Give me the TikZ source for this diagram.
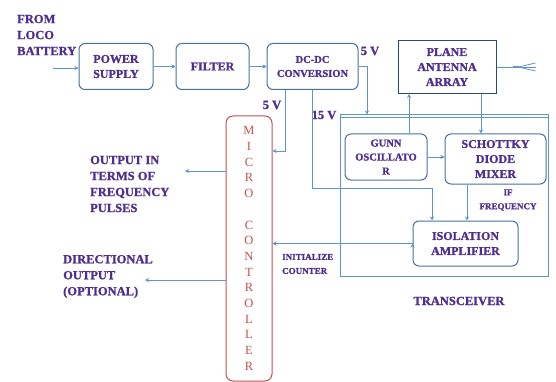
\documentclass[tikz,border=0pt]{standalone}
\usepackage{fontspec}
\setmainfont[BoldFeatures={FakeBold=1.2}]{Liberation Serif}
\usetikzlibrary{arrows.meta,positioning}

\definecolor{txtpurple}{RGB}{78,46,142}
\definecolor{wireblue}{RGB}{96,148,208}
\definecolor{boxblue}{RGB}{72,112,162}
\definecolor{antnavy}{RGB}{44,72,130}
\definecolor{mcred}{RGB}{196,82,78}

\tikzset{
  block/.style={draw=boxblue, line width=1pt, rounded corners=6pt, align=center,
    inner sep=0pt, text=txtpurple, font=\bfseries\fontsize{12}{15}\selectfont},
  smallblock/.style={block, font=\bfseries\fontsize{10.5}{14}\selectfont},
  lbl/.style={align=left, inner sep=0pt, text=txtpurple,
    font=\bfseries\fontsize{12.5}{16}\selectfont},
  tinylbl/.style={align=left, inner sep=0pt, text=txtpurple,
    font=\bfseries\fontsize{9}{14}\selectfont},
  wire/.style={draw=wireblue, line width=0.8pt}
}

\begin{document}
\begin{tikzpicture}[x=1pt,y=-1pt,>={Stealth[length=4pt,width=4pt]}]
  \useasboundingbox (0,0) rectangle (556,382);

  % supply chain
  \node[block, minimum width=74pt, minimum height=46pt] (power) at (116,66.5) {POWER\\SUPPLY};
  \node[block, minimum width=73pt, minimum height=46pt] (filter) at (212.5,66.5) {FILTER};
  \node[smallblock, minimum width=91pt, minimum height=46pt] (dcdc) at (312.5,66.5) {DC-DC\\CONVERSION};
  \node[block, draw=antnavy, rounded corners=0pt, minimum width=98pt, minimum height=53pt] (antenna) at (447,67) {PLANE\\ANTENNA\\ARRAY};

  % transceiver
  \node[draw=wireblue, line width=1pt, minimum width=208pt, minimum height=161pt, inner sep=0pt] (trx) at (444,195.5) {};
  \node[smallblock, minimum width=82pt, minimum height=46pt] (gunn) at (386,157) {GUNN\\OSCILLATO\\R};
  \node[block, minimum width=101pt, minimum height=50pt] (mixer) at (495.5,159) {SCHOTTKY\\DIODE\\MIXER};
  \node[block, minimum width=105pt, minimum height=45pt] (isolation) at (465.5,243.5) {ISOLATION\\AMPLIFIER};

  % micro controller
  \node[draw=mcred, line width=1pt, rounded corners=7pt, minimum width=46pt, minimum height=265pt,
    inner sep=0pt, align=center, text=mcred, font=\fontsize{12.5}{15.7}\selectfont] (micro) at (249,248.5)
    {M\\I\\C\\R\\O\\\mbox{}\\C\\O\\N\\T\\R\\O\\L\\L\\E\\R};

  % labels
  \node[lbl, anchor=west] (battery) at (17,35) {FROM\\LOCO\\BATTERY};
  \node[lbl, anchor=west] (freqout) at (90,184) {OUTPUT IN\\TERMS OF\\FREQUENCY\\PULSES};
  \node[lbl, anchor=west] (dirout) at (63,276.5) {DIRECTIONAL\\OUTPUT\\(OPTIONAL)};
  \node[tinylbl, anchor=west] (init) at (282,264) {INITIALIZE\\COUNTER};
  \node[tinylbl, align=center] (iffreq) at (508,200) {IF\\FREQUENCY};
  \node[lbl] (trxlabel) at (459,301) {TRANSCEIVER};
  \node[lbl] (vfive) at (370,51) {5 V};
  \node[lbl] (vmicro) at (272,105) {5 V};
  \node[lbl] (vfifteen) at (324,115) {15 V};

  % bend points and free ends
  \coordinate (batt) at (53,68);
  \coordinate (tap5) at (285,151);
  \coordinate (tap15) at (312,188);
  \coordinate (iso15) at (432,0);
  \coordinate (trx5) at (367,0);
  \coordinate (gunnup) at (409,0);
  \coordinate (antdown) at (481,0);
  \coordinate (ifline) at (467,0);
  \coordinate (outfreq) at (185,171);
  \coordinate (outdir) at (145,280);

  \draw[wire,->] (batt) -- (batt -| power.west);
  \path[wire,->] (power) edge (filter)
    (filter) edge (dcdc)
    (gunn.east) edge (gunn.east -| mixer.west)
    (isolation.west) edge (isolation.west -| micro.east);
  \draw[wire,->] (dcdc.east) -| (trx.north -| trx5);
  \draw[wire,->] (dcdc.south -| tap5) -- (tap5) -- (tap5 -| micro.east);
  \draw[wire,->] (dcdc.south -| tap15) -- (tap15) -| (isolation.north -| iso15);
  \draw[wire,->] (gunn.north -| gunnup) -- (antenna.south -| gunnup);
  \draw[wire,->] (antenna.south -| antdown) -- (mixer.north -| antdown);
  \draw[wire,->] (mixer.south -| ifline) -- (isolation.north -| ifline);
  \draw[wire,->] (micro.west |- outfreq) -- (outfreq);
  \draw[wire,->] (micro.west |- outdir) -- (outdir);
  \draw[wire] ([yshift=-3pt]trx.north west) -- ([yshift=-3pt]trx.north east);

  % antenna feed
  \draw[wire] (antenna.east) -- ++(22,0) coordinate (feed);
  \draw[wire, line width=2pt] (feed) -- ++(-6,0);
  \foreach \dy in {-4,0,4}
    \draw[wire] (feed) -- ++(17,\dy);
\end{tikzpicture}
\end{document}
